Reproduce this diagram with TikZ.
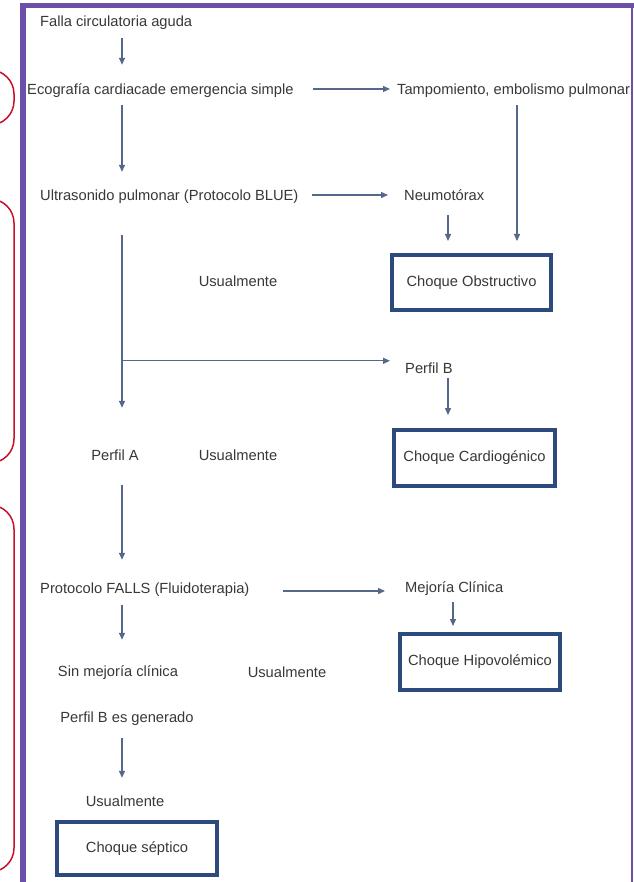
\documentclass[tikz,border=0pt]{standalone}
\usepackage{fontspec}
\setmainfont{Liberation Sans}
\usetikzlibrary{arrows.meta,calc}
\definecolor{framepurple}{HTML}{6B4FA8}
\definecolor{markred}{HTML}{C8102E}
\definecolor{arrowblue}{HTML}{55678A}
\definecolor{boxblue}{HTML}{2C4A7C}
\definecolor{txtgray}{HTML}{383838}
\begin{document}
\begin{tikzpicture}[x=1pt,y=-1pt,
  txt/.style={inner sep=0pt,text height=11pt,text depth=3pt,text=txtgray,font=\fontsize{14.7}{17}\selectfont},
  ltxt/.style={txt,anchor=base west},
  ctxt/.style={txt,anchor=base},
  shockbox/.style={draw=boxblue,line width=4pt,inner sep=0pt,text=txtgray,font=\fontsize{14.7}{17}\selectfont},
  arr/.style={draw=arrowblue,line width=1.3pt,-{Triangle[length=7pt,width=6pt]}},
  redmark/.style={draw=markred,line width=1.5pt,rounded corners=24pt},
  frameline/.style={draw=framepurple}
]
\useasboundingbox (0,0) rectangle (633,882);
\fill[white] (0,0) rectangle (633,882);

% red side markers
\draw[redmark] (-40,70) rectangle (14,125);
\draw[redmark] (-40,199) rectangle (14,463);
\draw[redmark] (-40,505) rectangle (14,872);

% purple frame
\draw[frameline,line width=6pt] (23,3) -- (23,890);
\draw[frameline,line width=5pt] (20,5.5) -- (640,5.5);
\draw[frameline,line width=2pt] (631.5,3) -- (631.5,890);

% x positions
\coordinate (spine) at (122,0);
\coordinate (tampx) at (517,0);
\coordinate (neumox) at (448,0);
\coordinate (mejx) at (453,0);

% text nodes
\node[ltxt] (falla) at (40,27) {Falla circulatoria aguda};
\node[ltxt] (eco) at (27,95) {Ecografía cardiacade emergencia simple};
\node[ltxt] (tamp) at (397,95) {Tampomiento, embolismo pulmonar};
\node[ltxt] (ultra) at (40,201) {Ultrasonido pulmonar (Protocolo BLUE)};
\node[ltxt] (neumo) at (404,201) {Neumotórax};
\node[ctxt] (usual1) at (238,287) {Usualmente};
\node[ltxt] (perfilB) at (405,373) {Perfil B};
\node[ctxt] (perfilA) at (115,460) {Perfil A};
\node[ctxt] (usual2) at (238,460) {Usualmente};
\node[ltxt] (falls) at (40,593) {Protocolo FALLS (Fluidoterapia)};
\node[ltxt] (mejoria) at (405,592) {Mejoría Clínica};
\node[ctxt] (sinmej) at (118,676) {Sin mejoría clínica};
\node[ctxt] (usual3) at (287,677) {Usualmente};
\node[ctxt] (perfilBgen) at (127,722) {Perfil B es generado};
\node[ctxt] (usual4) at (125,806) {Usualmente};

% shock boxes
\node[shockbox,minimum width=159pt,minimum height=55pt] (obst) at (471.5,282.5) {Choque Obstructivo};
\node[shockbox,minimum width=161pt,minimum height=56pt] (cardio) at (474.5,458) {Choque Cardiogénico};
\node[shockbox,minimum width=160pt,minimum height=56pt] (hipo) at (480,662) {Choque Hipovolémico};
\node[shockbox,minimum width=160pt,minimum height=53pt] (septico) at (137,848.5) {Choque séptico};

% connectors
\draw[arr,shorten <=8pt,shorten >=19pt] (falla.south -| spine) -- (eco.north -| spine);
\draw[arr,shorten <=19pt,shorten >=7pt] ([yshift=2pt]eco.east) -- ([yshift=2pt]eco.east -| tamp.west);
\draw[arr,shorten <=7pt,shorten >=18pt] (eco.south -| spine) -- (ultra.north -| spine);
\draw[arr,shorten <=13pt,shorten >=16pt] ([yshift=2pt]ultra.east) -- ([yshift=2pt]ultra.east -| neumo.west);
\draw[arr,shorten <=7pt,shorten >=12pt] (tamp.south -| tampx) -- (obst.north -| tampx);
\draw[arr,shorten <=11pt,shorten >=12pt] (neumo.south -| neumox) -- (obst.north -| neumox);
\draw[arr,shorten <=31pt,shorten >=41pt] (ultra.south -| spine) -- (perfilA.north -| spine);
\draw[arr,shorten >=15pt] ([yshift=1pt]perfilB.north -| spine) -- ([yshift=1pt]perfilB.north west);
\draw[arr,shorten <=2pt,shorten >=13pt] (perfilB.south -| neumox) -- (cardio.north -| neumox);
\draw[arr,shorten <=22pt,shorten >=22pt] (perfilA.south -| spine) -- (falls.north -| spine);
\draw[arr,shorten <=33pt,shorten >=20pt] ([yshift=-2pt]falls.east) -- ([yshift=-2pt]falls.east -| mejoria.west);
\draw[arr,shorten <=7pt,shorten >=6pt] (mejoria.south -| mejx) -- (hipo.north -| mejx);
\draw[arr,shorten <=9pt,shorten >=25pt] (falls.south -| spine) -- (sinmej.north -| spine);
\draw[arr,shorten <=13pt,shorten >=17pt] (perfilBgen.south -| spine) -- (usual4.north -| spine);
\end{tikzpicture}
\end{document}
